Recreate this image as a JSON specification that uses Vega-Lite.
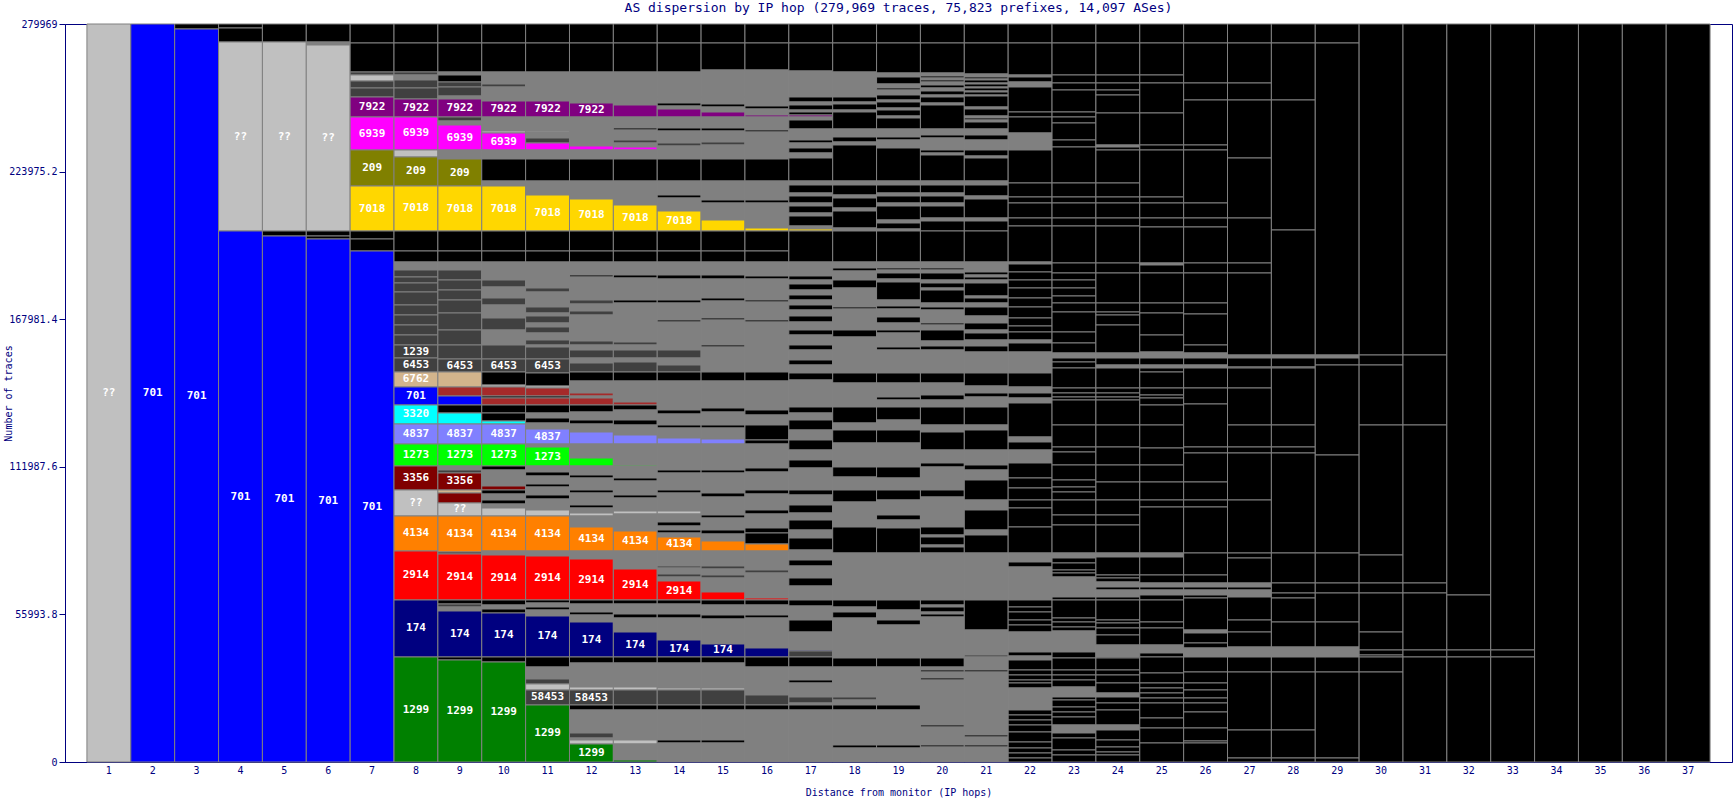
{
"$schema":"https://vega.github.io/schema/vega-lite/v6.json",
"width":1667,"height":738,
"autosize":{"type":"none"},
"padding":{"left":65,"top":24,"right":2,"bottom":38},
"background":"white",
"title":{"text":"AS dispersion by IP hop (279,969 traces, 75,823 prefixes, 14,097 ASes)","font":"DejaVu Sans Mono","fontSize":13,"fontWeight":"normal","color":"#000080","offset":4,"anchor":"middle"},
"config":{"view":{"stroke":"#000080","strokeWidth":1}},
"data":{"values":[
{"h":1,"n":279969,"c":"L","t":"??"},
{"h":2,"n":279969,"c":"B","t":"701"},
{"h":3,"n":1898,"c":"K"},{"h":3,"n":278071,"c":"B","t":"701"},
{"h":4,"n":1517,"c":"K"},{"h":4,"n":5311,"c":"K"},{"h":4,"n":71699,"c":"L","t":"??"},{"h":4,"n":201440,"c":"B","t":"701"},
{"h":5,"n":6828,"c":"K"},{"h":5,"n":71699,"c":"L","t":"??"},{"h":5,"n":1897,"c":"K"},{"h":5,"n":199543,"c":"B","t":"701"},
{"h":6,"n":6828,"c":"K"},{"h":6,"n":1138,"c":"G"},{"h":6,"n":70561,"c":"L","t":"??"},{"h":6,"n":1897,"c":"K"},{"h":6,"n":1138,"c":"K"},{"h":6,"n":198405,"c":"B","t":"701"},
{"h":7,"n":7208,"c":"K"},{"h":7,"n":11001,"c":"K"},{"h":7,"n":1138,"c":"D"},{"h":7,"n":2276,"c":"L"},{"h":7,"n":2656,"c":"D"},{"h":7,"n":3414,"c":"D"},{"h":7,"n":7587,"c":"P","t":"7922"},{"h":7,"n":12519,"c":"M","t":"6939"},{"h":7,"n":13657,"c":"O","t":"209"},{"h":7,"n":17071,"c":"Y","t":"7018"},{"h":7,"n":3035,"c":"K"},{"h":7,"n":4552,"c":"K"},{"h":7,"n":193853,"c":"B","t":"701"},
{"h":8,"n":7208,"c":"K"},{"h":8,"n":11001,"c":"K"},{"h":8,"n":1138,"c":"D"},{"h":8,"n":1897,"c":"G"},{"h":8,"n":3035,"c":"D"},{"h":8,"n":4173,"c":"D"},{"h":8,"n":6828,"c":"P","t":"7922"},{"h":8,"n":12519,"c":"M","t":"6939"},{"h":8,"n":2656,"c":"L"},{"h":8,"n":11001,"c":"O","t":"209"},{"h":8,"n":17071,"c":"Y","t":"7018"},{"h":8,"n":7587,"c":"K"},{"h":8,"n":4173,"c":"K"},{"h":8,"n":3035,"c":"G"},{"h":8,"n":2656,"c":"D"},{"h":8,"n":2276,"c":"D"},{"h":8,"n":3414,"c":"D"},{"h":8,"n":4932,"c":"D"},{"h":8,"n":3794,"c":"D"},{"h":8,"n":3794,"c":"D"},{"h":8,"n":3794,"c":"D"},{"h":8,"n":3794,"c":"D"},{"h":8,"n":4932,"c":"D","t":"1239"},{"h":8,"n":5311,"c":"D","t":"6453"},{"h":8,"n":5690,"c":"T","t":"6762"},{"h":8,"n":6828,"c":"B","t":"701"},{"h":8,"n":7208,"c":"C","t":"3320"},{"h":8,"n":7587,"c":"V","t":"4837"},{"h":8,"n":8346,"c":"Gr","t":"1273"},{"h":8,"n":9105,"c":"R","t":"3356"},{"h":8,"n":9863,"c":"L","t":"??"},{"h":8,"n":13278,"c":"Or","t":"4134"},{"h":8,"n":18589,"c":"Rd","t":"2914"},{"h":8,"n":21624,"c":"N","t":"174"},{"h":8,"n":39833,"c":"Gn","t":"1299"},
{"h":9,"n":7208,"c":"K"},{"h":9,"n":11001,"c":"K"},{"h":9,"n":1138,"c":"G"},{"h":9,"n":2656,"c":"K"},{"h":9,"n":1897,"c":"D"},{"h":9,"n":3414,"c":"D"},{"h":9,"n":1138,"c":"G"},{"h":9,"n":6828,"c":"P","t":"7922"},{"h":9,"n":1517,"c":"D"},{"h":9,"n":1517,"c":"G"},{"h":9,"n":9484,"c":"M","t":"6939"},{"h":9,"n":1138,"c":"G"},{"h":9,"n":2276,"c":"G"},{"h":9,"n":10243,"c":"O","t":"209"},{"h":9,"n":17071,"c":"Y","t":"7018"},{"h":9,"n":7587,"c":"K"},{"h":9,"n":4173,"c":"K"},{"h":9,"n":3035,"c":"G"},{"h":9,"n":3794,"c":"D"},{"h":9,"n":3794,"c":"D"},{"h":9,"n":3794,"c":"D"},{"h":9,"n":4932,"c":"D"},{"h":9,"n":6449,"c":"D"},{"h":9,"n":5690,"c":"D"},{"h":9,"n":5311,"c":"D"},{"h":9,"n":4932,"c":"D","t":"6453"},{"h":9,"n":5690,"c":"T"},{"h":9,"n":3414,"c":"Br"},{"h":9,"n":3414,"c":"B"},{"h":9,"n":3035,"c":"K"},{"h":9,"n":4173,"c":"C"},{"h":9,"n":7587,"c":"V","t":"4837"},{"h":9,"n":8346,"c":"Gr","t":"1273"},{"h":9,"n":1517,"c":"G"},{"h":9,"n":1138,"c":"D"},{"h":9,"n":6449,"c":"R","t":"3356"},{"h":9,"n":1138,"c":"T"},{"h":9,"n":3794,"c":"R"},{"h":9,"n":4932,"c":"L","t":"??"},{"h":9,"n":13657,"c":"Or","t":"4134"},{"h":9,"n":759,"c":"D"},{"h":9,"n":17451,"c":"Rd","t":"2914"},{"h":9,"n":1517,"c":"K"},{"h":9,"n":1138,"c":"D"},{"h":9,"n":1517,"c":"G"},{"h":9,"n":17451,"c":"N","t":"174"},{"h":9,"n":1138,"c":"K"},{"h":9,"n":38695,"c":"Gn","t":"1299"},
{"h":10,"n":7208,"c":"K"},{"h":10,"n":11001,"c":"K"},{"h":10,"n":1138,"c":"G"},{"h":10,"n":3414,"c":"G"},{"h":10,"n":1138,"c":"D"},{"h":10,"n":5311,"c":"G"},{"h":10,"n":6070,"c":"P","t":"7922"},{"h":10,"n":2656,"c":"G"},{"h":10,"n":2656,"c":"G"},{"h":10,"n":759,"c":"L"},{"h":10,"n":6449,"c":"M","t":"6939"},{"h":10,"n":1897,"c":"G"},{"h":10,"n":1517,"c":"G"},{"h":10,"n":8346,"c":"K"},{"h":10,"n":1897,"c":"G"},{"h":10,"n":17071,"c":"Y","t":"7018"},{"h":10,"n":7587,"c":"K"},{"h":10,"n":4173,"c":"K"},{"h":10,"n":3035,"c":"G"},{"h":10,"n":3794,"c":"G"},{"h":10,"n":2656,"c":"D"},{"h":10,"n":4173,"c":"G"},{"h":10,"n":2656,"c":"D"},{"h":10,"n":4932,"c":"G"},{"h":10,"n":4552,"c":"D"},{"h":10,"n":5690,"c":"G"},{"h":10,"n":5311,"c":"D"},{"h":10,"n":4932,"c":"D","t":"6453"},{"h":10,"n":4932,"c":"K"},{"h":10,"n":759,"c":"L"},{"h":10,"n":3414,"c":"Br"},{"h":10,"n":759,"c":"K"},{"h":10,"n":2656,"c":"Br"},{"h":10,"n":3035,"c":"K"},{"h":10,"n":3035,"c":"K"},{"h":10,"n":1138,"c":"C"},{"h":10,"n":7587,"c":"V","t":"4837"},{"h":10,"n":8346,"c":"Gr","t":"1273"},{"h":10,"n":1517,"c":"K"},{"h":10,"n":2276,"c":"G"},{"h":10,"n":3794,"c":"G"},{"h":10,"n":1517,"c":"R"},{"h":10,"n":1517,"c":"K"},{"h":10,"n":2276,"c":"G"},{"h":10,"n":1517,"c":"K"},{"h":10,"n":1517,"c":"G"},{"h":10,"n":3035,"c":"L"},{"h":10,"n":13278,"c":"Or","t":"4134"},{"h":10,"n":1517,"c":"G"},{"h":10,"n":17071,"c":"Rd","t":"2914"},{"h":10,"n":1897,"c":"K"},{"h":10,"n":1517,"c":"G"},{"h":10,"n":1517,"c":"K"},{"h":10,"n":16692,"c":"N","t":"174"},{"h":10,"n":1897,"c":"K"},{"h":10,"n":37936,"c":"Gn","t":"1299"},
{"h":11,"n":7208,"c":"K"},{"h":11,"n":11001,"c":"K"},{"h":11,"n":9484,"c":"G"},{"h":11,"n":1517,"c":"G"},{"h":11,"n":6070,"c":"P","t":"7922"},{"h":11,"n":2656,"c":"G"},{"h":11,"n":2656,"c":"G"},{"h":11,"n":379,"c":"L"},{"h":11,"n":2276,"c":"G"},{"h":11,"n":1897,"c":"D"},{"h":11,"n":2656,"c":"M"},{"h":11,"n":1897,"c":"G"},{"h":11,"n":1517,"c":"G"},{"h":11,"n":8346,"c":"K"},{"h":11,"n":2276,"c":"G"},{"h":11,"n":3035,"c":"G"},{"h":11,"n":13657,"c":"Y","t":"7018"},{"h":11,"n":7587,"c":"K"},{"h":11,"n":4173,"c":"K"},{"h":11,"n":3035,"c":"G"},{"h":11,"n":6828,"c":"G"},{"h":11,"n":1517,"c":"D"},{"h":11,"n":5690,"c":"G"},{"h":11,"n":2276,"c":"D"},{"h":11,"n":1138,"c":"G"},{"h":11,"n":2656,"c":"D"},{"h":11,"n":1517,"c":"G"},{"h":11,"n":2276,"c":"D"},{"h":11,"n":2656,"c":"G"},{"h":11,"n":1897,"c":"D"},{"h":11,"n":759,"c":"G"},{"h":11,"n":4552,"c":"D"},{"h":11,"n":5311,"c":"D","t":"6453"},{"h":11,"n":4932,"c":"K"},{"h":11,"n":759,"c":"L"},{"h":11,"n":3035,"c":"Br"},{"h":11,"n":759,"c":"K"},{"h":11,"n":2656,"c":"Br"},{"h":11,"n":3035,"c":"K"},{"h":11,"n":1897,"c":"G"},{"h":11,"n":1897,"c":"K"},{"h":11,"n":2276,"c":"G"},{"h":11,"n":5690,"c":"V","t":"4837"},{"h":11,"n":1138,"c":"G"},{"h":11,"n":7208,"c":"Gr","t":"1273"},{"h":11,"n":2276,"c":"G"},{"h":11,"n":1517,"c":"K"},{"h":11,"n":3035,"c":"G"},{"h":11,"n":1138,"c":"K"},{"h":11,"n":3035,"c":"G"},{"h":11,"n":1517,"c":"K"},{"h":11,"n":4173,"c":"G"},{"h":11,"n":2276,"c":"L"},{"h":11,"n":13278,"c":"Or","t":"4134"},{"h":11,"n":1897,"c":"G"},{"h":11,"n":16692,"c":"Rd","t":"2914"},{"h":11,"n":1138,"c":"K"},{"h":11,"n":1517,"c":"G"},{"h":11,"n":1138,"c":"K"},{"h":11,"n":2276,"c":"G"},{"h":11,"n":15554,"c":"N","t":"174"},{"h":11,"n":3794,"c":"K"},{"h":11,"n":4552,"c":"G"},{"h":11,"n":1897,"c":"D"},{"h":11,"n":2276,"c":"L"},{"h":11,"n":5690,"c":"D","t":"58453"},{"h":11,"n":21624,"c":"Gn","t":"1299"},
{"h":12,"n":7208,"c":"K"},{"h":12,"n":11001,"c":"K"},{"h":12,"n":9105,"c":"G"},{"h":12,"n":2656,"c":"G"},{"h":12,"n":5311,"c":"P","t":"7922"},{"h":12,"n":3794,"c":"G"},{"h":12,"n":2656,"c":"G"},{"h":12,"n":2656,"c":"G"},{"h":12,"n":1897,"c":"G"},{"h":12,"n":1517,"c":"M"},{"h":12,"n":1897,"c":"G"},{"h":12,"n":1517,"c":"G"},{"h":12,"n":8346,"c":"K"},{"h":12,"n":3414,"c":"G"},{"h":12,"n":3414,"c":"G"},{"h":12,"n":12140,"c":"Y","t":"7018"},{"h":12,"n":7587,"c":"K"},{"h":12,"n":4173,"c":"K"},{"h":12,"n":3035,"c":"G"},{"h":12,"n":1897,"c":"G"},{"h":12,"n":759,"c":"K"},{"h":12,"n":8725,"c":"G"},{"h":12,"n":1517,"c":"D"},{"h":12,"n":2656,"c":"G"},{"h":12,"n":1517,"c":"D"},{"h":12,"n":9863,"c":"G"},{"h":12,"n":1517,"c":"D"},{"h":12,"n":1897,"c":"G"},{"h":12,"n":3035,"c":"D"},{"h":12,"n":1897,"c":"G"},{"h":12,"n":3414,"c":"D"},{"h":12,"n":3414,"c":"K"},{"h":12,"n":4552,"c":"G"},{"h":12,"n":1138,"c":"Br"},{"h":12,"n":759,"c":"G"},{"h":12,"n":2656,"c":"Br"},{"h":12,"n":2656,"c":"K"},{"h":12,"n":3035,"c":"G"},{"h":12,"n":1517,"c":"K"},{"h":12,"n":3035,"c":"G"},{"h":12,"n":4552,"c":"V"},{"h":12,"n":5311,"c":"G"},{"h":12,"n":3035,"c":"Gr"},{"h":12,"n":3414,"c":"G"},{"h":12,"n":1138,"c":"K"},{"h":12,"n":4552,"c":"G"},{"h":12,"n":1138,"c":"K"},{"h":12,"n":4552,"c":"G"},{"h":12,"n":1138,"c":"K"},{"h":12,"n":1897,"c":"G"},{"h":12,"n":1138,"c":"L"},{"h":12,"n":4173,"c":"G"},{"h":12,"n":9105,"c":"Or","t":"4134"},{"h":12,"n":3035,"c":"G"},{"h":12,"n":15554,"c":"Rd","t":"2914"},{"h":12,"n":1517,"c":"K"},{"h":12,"n":3035,"c":"G"},{"h":12,"n":1138,"c":"K"},{"h":12,"n":2656,"c":"G"},{"h":12,"n":13278,"c":"N","t":"174"},{"h":12,"n":2276,"c":"K"},{"h":12,"n":9105,"c":"G"},{"h":12,"n":1138,"c":"L"},{"h":12,"n":5690,"c":"D","t":"58453"},{"h":12,"n":1897,"c":"K"},{"h":12,"n":8725,"c":"G"},{"h":12,"n":1897,"c":"D"},{"h":12,"n":759,"c":"G"},{"h":12,"n":1517,"c":"L"},{"h":12,"n":6828,"c":"Gn","t":"1299"},
{"h":13,"n":7208,"c":"K"},{"h":13,"n":11001,"c":"K"},{"h":13,"n":9484,"c":"G"},{"h":13,"n":3035,"c":"G"},{"h":13,"n":4552,"c":"P"},{"h":13,"n":4173,"c":"G"},{"h":13,"n":759,"c":"K"},{"h":13,"n":3794,"c":"G"},{"h":13,"n":1138,"c":"D"},{"h":13,"n":1517,"c":"G"},{"h":13,"n":1138,"c":"M"},{"h":13,"n":3414,"c":"G"},{"h":13,"n":8346,"c":"K"},{"h":13,"n":4173,"c":"G"},{"h":13,"n":4932,"c":"G"},{"h":13,"n":9863,"c":"Y","t":"7018"},{"h":13,"n":7587,"c":"K"},{"h":13,"n":4173,"c":"K"},{"h":13,"n":3035,"c":"G"},{"h":13,"n":1897,"c":"G"},{"h":13,"n":1138,"c":"K"},{"h":13,"n":8346,"c":"G"},{"h":13,"n":1138,"c":"K"},{"h":13,"n":14795,"c":"G"},{"h":13,"n":1138,"c":"D"},{"h":13,"n":1897,"c":"G"},{"h":13,"n":3035,"c":"D"},{"h":13,"n":1517,"c":"G"},{"h":13,"n":3794,"c":"D"},{"h":13,"n":3414,"c":"K"},{"h":13,"n":7967,"c":"G"},{"h":13,"n":1138,"c":"Br"},{"h":13,"n":1897,"c":"K"},{"h":13,"n":3794,"c":"G"},{"h":13,"n":1897,"c":"K"},{"h":13,"n":3794,"c":"G"},{"h":13,"n":3414,"c":"V"},{"h":13,"n":7967,"c":"G"},{"h":13,"n":379,"c":"Gr"},{"h":13,"n":4552,"c":"G"},{"h":13,"n":1138,"c":"K"},{"h":13,"n":5311,"c":"G"},{"h":13,"n":1138,"c":"K"},{"h":13,"n":4932,"c":"G"},{"h":13,"n":1138,"c":"L"},{"h":13,"n":6449,"c":"G"},{"h":13,"n":7587,"c":"Or","t":"4134"},{"h":13,"n":6828,"c":"G"},{"h":13,"n":11760,"c":"Rd","t":"2914"},{"h":13,"n":1517,"c":"K"},{"h":13,"n":3794,"c":"G"},{"h":13,"n":1517,"c":"K"},{"h":13,"n":5311,"c":"G"},{"h":13,"n":9484,"c":"N","t":"174"},{"h":13,"n":2276,"c":"K"},{"h":13,"n":9105,"c":"G"},{"h":13,"n":1138,"c":"L"},{"h":13,"n":5690,"c":"D"},{"h":13,"n":1897,"c":"K"},{"h":13,"n":11381,"c":"G"},{"h":13,"n":1517,"c":"L"},{"h":13,"n":6070,"c":"G"},{"h":13,"n":759,"c":"Gn"},
{"h":14,"n":7208,"c":"K"},{"h":14,"n":11001,"c":"K"},{"h":14,"n":9484,"c":"G"},{"h":14,"n":2276,"c":"G"},{"h":14,"n":1138,"c":"K"},{"h":14,"n":1138,"c":"G"},{"h":14,"n":3035,"c":"P"},{"h":14,"n":4173,"c":"G"},{"h":14,"n":1138,"c":"K"},{"h":14,"n":4552,"c":"G"},{"h":14,"n":1138,"c":"D"},{"h":14,"n":4932,"c":"G"},{"h":14,"n":8346,"c":"K"},{"h":14,"n":5311,"c":"G"},{"h":14,"n":1138,"c":"K"},{"h":14,"n":4932,"c":"G"},{"h":14,"n":7587,"c":"Y","t":"7018"},{"h":14,"n":7587,"c":"K"},{"h":14,"n":4173,"c":"K"},{"h":14,"n":3035,"c":"G"},{"h":14,"n":1897,"c":"G"},{"h":14,"n":1517,"c":"K"},{"h":14,"n":7967,"c":"G"},{"h":14,"n":1138,"c":"K"},{"h":14,"n":6449,"c":"G"},{"h":14,"n":759,"c":"K"},{"h":14,"n":10622,"c":"G"},{"h":14,"n":3035,"c":"D"},{"h":14,"n":2656,"c":"G"},{"h":14,"n":2656,"c":"D"},{"h":14,"n":3414,"c":"K"},{"h":14,"n":11001,"c":"G"},{"h":14,"n":1517,"c":"K"},{"h":14,"n":4173,"c":"G"},{"h":14,"n":1138,"c":"K"},{"h":14,"n":3794,"c":"G"},{"h":14,"n":2276,"c":"V"},{"h":14,"n":9863,"c":"G"},{"h":14,"n":1138,"c":"K"},{"h":14,"n":6449,"c":"G"},{"h":14,"n":1138,"c":"K"},{"h":14,"n":6828,"c":"G"},{"h":14,"n":1138,"c":"L"},{"h":14,"n":3035,"c":"G"},{"h":14,"n":1517,"c":"K"},{"h":14,"n":1517,"c":"G"},{"h":14,"n":1138,"c":"K"},{"h":14,"n":1517,"c":"G"},{"h":14,"n":5311,"c":"Or","t":"4134"},{"h":14,"n":5690,"c":"G"},{"h":14,"n":759,"c":"D"},{"h":14,"n":2276,"c":"G"},{"h":14,"n":1138,"c":"D"},{"h":14,"n":1517,"c":"G"},{"h":14,"n":7208,"c":"Rd","t":"2914"},{"h":14,"n":1517,"c":"K"},{"h":14,"n":3794,"c":"G"},{"h":14,"n":1517,"c":"K"},{"h":14,"n":8346,"c":"G"},{"h":14,"n":6449,"c":"N","t":"174"},{"h":14,"n":2276,"c":"K"},{"h":14,"n":9484,"c":"G"},{"h":14,"n":759,"c":"L"},{"h":14,"n":5690,"c":"D"},{"h":14,"n":1897,"c":"K"},{"h":14,"n":11381,"c":"G"},{"h":14,"n":1138,"c":"K"},{"h":14,"n":7208,"c":"G"},
{"h":15,"n":7208,"c":"K"},{"h":15,"n":10243,"c":"K"},{"h":15,"n":10243,"c":"G"},{"h":15,"n":2656,"c":"G"},{"h":15,"n":1138,"c":"K"},{"h":15,"n":1897,"c":"G"},{"h":15,"n":1897,"c":"P"},{"h":15,"n":4173,"c":"G"},{"h":15,"n":1138,"c":"K"},{"h":15,"n":4173,"c":"G"},{"h":15,"n":1138,"c":"D"},{"h":15,"n":5311,"c":"G"},{"h":15,"n":8346,"c":"K"},{"h":15,"n":7208,"c":"G"},{"h":15,"n":1138,"c":"K"},{"h":15,"n":6449,"c":"G"},{"h":15,"n":4173,"c":"Y"},{"h":15,"n":7587,"c":"K"},{"h":15,"n":4173,"c":"K"},{"h":15,"n":3035,"c":"G"},{"h":15,"n":1897,"c":"G"},{"h":15,"n":1517,"c":"K"},{"h":15,"n":7208,"c":"G"},{"h":15,"n":1138,"c":"K"},{"h":15,"n":6449,"c":"G"},{"h":15,"n":759,"c":"K"},{"h":15,"n":9484,"c":"G"},{"h":15,"n":759,"c":"K"},{"h":15,"n":9484,"c":"G"},{"h":15,"n":3414,"c":"K"},{"h":15,"n":10243,"c":"G"},{"h":15,"n":1517,"c":"K"},{"h":15,"n":4932,"c":"G"},{"h":15,"n":1138,"c":"K"},{"h":15,"n":4173,"c":"G"},{"h":15,"n":1897,"c":"V"},{"h":15,"n":9863,"c":"G"},{"h":15,"n":1138,"c":"K"},{"h":15,"n":7587,"c":"G"},{"h":15,"n":1517,"c":"K"},{"h":15,"n":6828,"c":"G"},{"h":15,"n":1138,"c":"K"},{"h":15,"n":4552,"c":"G"},{"h":15,"n":1517,"c":"K"},{"h":15,"n":2656,"c":"G"},{"h":15,"n":3794,"c":"Or"},{"h":15,"n":5690,"c":"G"},{"h":15,"n":1138,"c":"D"},{"h":15,"n":2276,"c":"G"},{"h":15,"n":1138,"c":"D"},{"h":15,"n":5311,"c":"G"},{"h":15,"n":3035,"c":"Rd"},{"h":15,"n":1897,"c":"K"},{"h":15,"n":3794,"c":"G"},{"h":15,"n":1517,"c":"K"},{"h":15,"n":9484,"c":"G"},{"h":15,"n":4932,"c":"N","t":"174"},{"h":15,"n":2276,"c":"K"},{"h":15,"n":9484,"c":"G"},{"h":15,"n":759,"c":"L"},{"h":15,"n":5690,"c":"D"},{"h":15,"n":1897,"c":"K"},{"h":15,"n":11381,"c":"G"},{"h":15,"n":1138,"c":"K"},{"h":15,"n":7208,"c":"G"},
{"h":16,"n":7208,"c":"K"},{"h":16,"n":10243,"c":"K"},{"h":16,"n":10243,"c":"G"},{"h":16,"n":3414,"c":"G"},{"h":16,"n":1138,"c":"K"},{"h":16,"n":2276,"c":"G"},{"h":16,"n":759,"c":"P"},{"h":16,"n":4932,"c":"G"},{"h":16,"n":759,"c":"K"},{"h":16,"n":10243,"c":"G"},{"h":16,"n":8346,"c":"K"},{"h":16,"n":7208,"c":"G"},{"h":16,"n":1138,"c":"K"},{"h":16,"n":9484,"c":"G"},{"h":16,"n":1138,"c":"Y"},{"h":16,"n":7587,"c":"K"},{"h":16,"n":4173,"c":"K"},{"h":16,"n":3035,"c":"G"},{"h":16,"n":2276,"c":"G"},{"h":16,"n":1138,"c":"K"},{"h":16,"n":7967,"c":"G"},{"h":16,"n":759,"c":"K"},{"h":16,"n":6828,"c":"G"},{"h":16,"n":759,"c":"K"},{"h":16,"n":18968,"c":"G"},{"h":16,"n":3414,"c":"K"},{"h":16,"n":11001,"c":"G"},{"h":16,"n":1897,"c":"K"},{"h":16,"n":3794,"c":"G"},{"h":16,"n":5690,"c":"K"},{"h":16,"n":1517,"c":"K"},{"h":16,"n":9105,"c":"G"},{"h":16,"n":1517,"c":"K"},{"h":16,"n":6828,"c":"G"},{"h":16,"n":1517,"c":"K"},{"h":16,"n":6070,"c":"G"},{"h":16,"n":1517,"c":"K"},{"h":16,"n":5311,"c":"G"},{"h":16,"n":1897,"c":"K"},{"h":16,"n":4173,"c":"K"},{"h":16,"n":2656,"c":"Or"},{"h":16,"n":7208,"c":"G"},{"h":16,"n":1138,"c":"D"},{"h":16,"n":9484,"c":"G"},{"h":16,"n":759,"c":"Rd"},{"h":16,"n":1897,"c":"K"},{"h":16,"n":3794,"c":"G"},{"h":16,"n":1138,"c":"K"},{"h":16,"n":11381,"c":"G"},{"h":16,"n":3414,"c":"N"},{"h":16,"n":3794,"c":"K"},{"h":16,"n":10622,"c":"G"},{"h":16,"n":3794,"c":"D"},{"h":16,"n":1897,"c":"K"},{"h":16,"n":19727,"c":"G"},
{"h":17,"n":7208,"c":"K"},{"h":17,"n":10622,"c":"K"},{"h":17,"n":9863,"c":"G"},{"h":17,"n":1897,"c":"K"},{"h":17,"n":1138,"c":"G"},{"h":17,"n":1897,"c":"K"},{"h":17,"n":759,"c":"G"},{"h":17,"n":1138,"c":"K"},{"h":17,"n":759,"c":"P"},{"h":17,"n":1138,"c":"G"},{"h":17,"n":3414,"c":"K"},{"h":17,"n":4173,"c":"G"},{"h":17,"n":1138,"c":"K"},{"h":17,"n":1897,"c":"G"},{"h":17,"n":1897,"c":"K"},{"h":17,"n":1897,"c":"G"},{"h":17,"n":8725,"c":"K"},{"h":17,"n":1517,"c":"G"},{"h":17,"n":3035,"c":"K"},{"h":17,"n":1138,"c":"G"},{"h":17,"n":2656,"c":"K"},{"h":17,"n":1138,"c":"G"},{"h":17,"n":2656,"c":"K"},{"h":17,"n":1138,"c":"G"},{"h":17,"n":3794,"c":"K"},{"h":17,"n":1138,"c":"G"},{"h":17,"n":759,"c":"Y"},{"h":17,"n":11760,"c":"K"},{"h":17,"n":3035,"c":"G"},{"h":17,"n":2276,"c":"G"},{"h":17,"n":1517,"c":"K"},{"h":17,"n":1517,"c":"G"},{"h":17,"n":2276,"c":"K"},{"h":17,"n":1897,"c":"G"},{"h":17,"n":1897,"c":"K"},{"h":17,"n":1897,"c":"G"},{"h":17,"n":1897,"c":"K"},{"h":17,"n":2276,"c":"G"},{"h":17,"n":2276,"c":"K"},{"h":17,"n":3035,"c":"G"},{"h":17,"n":1897,"c":"K"},{"h":17,"n":3794,"c":"G"},{"h":17,"n":1897,"c":"K"},{"h":17,"n":3794,"c":"G"},{"h":17,"n":1897,"c":"K"},{"h":17,"n":3035,"c":"G"},{"h":17,"n":2656,"c":"K"},{"h":17,"n":10243,"c":"G"},{"h":17,"n":2276,"c":"K"},{"h":17,"n":2656,"c":"G"},{"h":17,"n":3794,"c":"K"},{"h":17,"n":3794,"c":"G"},{"h":17,"n":3794,"c":"K"},{"h":17,"n":3794,"c":"G"},{"h":17,"n":3035,"c":"K"},{"h":17,"n":8346,"c":"G"},{"h":17,"n":1897,"c":"K"},{"h":17,"n":3794,"c":"G"},{"h":17,"n":3035,"c":"K"},{"h":17,"n":2656,"c":"G"},{"h":17,"n":3794,"c":"K"},{"h":17,"n":3035,"c":"G"},{"h":17,"n":4552,"c":"K"},{"h":17,"n":3794,"c":"G"},{"h":17,"n":2276,"c":"K"},{"h":17,"n":4552,"c":"G"},{"h":17,"n":3035,"c":"K"},{"h":17,"n":5311,"c":"G"},{"h":17,"n":2276,"c":"K"},{"h":17,"n":5311,"c":"G"},{"h":17,"n":4552,"c":"K"},{"h":17,"n":6828,"c":"G"},{"h":17,"n":379,"c":"N"},{"h":17,"n":2276,"c":"D"},{"h":17,"n":3794,"c":"K"},{"h":17,"n":4932,"c":"G"},{"h":17,"n":1138,"c":"K"},{"h":17,"n":5311,"c":"G"},{"h":17,"n":2276,"c":"D"},{"h":17,"n":759,"c":"G"},{"h":17,"n":1897,"c":"K"},{"h":17,"n":19727,"c":"G"},
{"h":18,"n":7208,"c":"K"},{"h":18,"n":11001,"c":"K"},{"h":18,"n":9484,"c":"G"},{"h":18,"n":1897,"c":"K"},{"h":18,"n":759,"c":"G"},{"h":18,"n":2276,"c":"K"},{"h":18,"n":759,"c":"G"},{"h":18,"n":6449,"c":"K"},{"h":18,"n":3035,"c":"G"},{"h":18,"n":1897,"c":"K"},{"h":18,"n":1138,"c":"G"},{"h":18,"n":13657,"c":"K"},{"h":18,"n":1517,"c":"G"},{"h":18,"n":3794,"c":"K"},{"h":18,"n":1138,"c":"G"},{"h":18,"n":3794,"c":"K"},{"h":18,"n":1138,"c":"G"},{"h":18,"n":6449,"c":"K"},{"h":18,"n":1138,"c":"G"},{"h":18,"n":11760,"c":"K"},{"h":18,"n":2276,"c":"G"},{"h":18,"n":1138,"c":"K"},{"h":18,"n":3414,"c":"G"},{"h":18,"n":3035,"c":"K"},{"h":18,"n":7208,"c":"G"},{"h":18,"n":759,"c":"K"},{"h":18,"n":7967,"c":"G"},{"h":18,"n":2656,"c":"K"},{"h":18,"n":13657,"c":"G"},{"h":18,"n":3794,"c":"K"},{"h":18,"n":9105,"c":"G"},{"h":18,"n":6070,"c":"K"},{"h":18,"n":2656,"c":"G"},{"h":18,"n":4932,"c":"K"},{"h":18,"n":9105,"c":"G"},{"h":18,"n":3794,"c":"K"},{"h":18,"n":4932,"c":"G"},{"h":18,"n":4552,"c":"K"},{"h":18,"n":9484,"c":"G"},{"h":18,"n":9863,"c":"K"},{"h":18,"n":17830,"c":"G"},{"h":18,"n":2656,"c":"K"},{"h":18,"n":1897,"c":"G"},{"h":18,"n":2276,"c":"K"},{"h":18,"n":15174,"c":"G"},{"h":18,"n":3414,"c":"K"},{"h":18,"n":11381,"c":"G"},{"h":18,"n":1138,"c":"D"},{"h":18,"n":1897,"c":"G"},{"h":18,"n":1897,"c":"K"},{"h":18,"n":13278,"c":"G"},{"h":18,"n":1138,"c":"K"},{"h":18,"n":5311,"c":"G"},
{"h":19,"n":7208,"c":"K"},{"h":19,"n":11381,"c":"K"},{"h":19,"n":1517,"c":"G"},{"h":19,"n":2656,"c":"K"},{"h":19,"n":1517,"c":"G"},{"h":19,"n":759,"c":"K"},{"h":19,"n":1897,"c":"G"},{"h":19,"n":1897,"c":"K"},{"h":19,"n":759,"c":"G"},{"h":19,"n":2276,"c":"K"},{"h":19,"n":759,"c":"G"},{"h":19,"n":2276,"c":"K"},{"h":19,"n":759,"c":"G"},{"h":19,"n":4173,"c":"K"},{"h":19,"n":3035,"c":"G"},{"h":19,"n":1138,"c":"K"},{"h":19,"n":3035,"c":"G"},{"h":19,"n":12519,"c":"K"},{"h":19,"n":1517,"c":"G"},{"h":19,"n":3035,"c":"K"},{"h":19,"n":1138,"c":"G"},{"h":19,"n":2656,"c":"K"},{"h":19,"n":1138,"c":"G"},{"h":19,"n":5311,"c":"K"},{"h":19,"n":1138,"c":"G"},{"h":19,"n":2276,"c":"K"},{"h":19,"n":759,"c":"G"},{"h":19,"n":11760,"c":"K"},{"h":19,"n":2276,"c":"G"},{"h":19,"n":759,"c":"K"},{"h":19,"n":1138,"c":"G"},{"h":19,"n":2276,"c":"K"},{"h":19,"n":1138,"c":"G"},{"h":19,"n":6828,"c":"K"},{"h":19,"n":2276,"c":"G"},{"h":19,"n":1138,"c":"K"},{"h":19,"n":3035,"c":"G"},{"h":19,"n":2276,"c":"K"},{"h":19,"n":2656,"c":"G"},{"h":19,"n":1138,"c":"K"},{"h":19,"n":5311,"c":"G"},{"h":19,"n":1138,"c":"K"},{"h":19,"n":8725,"c":"G"},{"h":19,"n":3794,"c":"K"},{"h":19,"n":5311,"c":"G"},{"h":19,"n":1138,"c":"K"},{"h":19,"n":2656,"c":"G"},{"h":19,"n":4932,"c":"K"},{"h":19,"n":3794,"c":"G"},{"h":19,"n":4932,"c":"K"},{"h":19,"n":9105,"c":"G"},{"h":19,"n":4173,"c":"K"},{"h":19,"n":4552,"c":"G"},{"h":19,"n":3794,"c":"K"},{"h":19,"n":5690,"c":"G"},{"h":19,"n":1897,"c":"K"},{"h":19,"n":3035,"c":"G"},{"h":19,"n":9484,"c":"K"},{"h":19,"n":17830,"c":"G"},{"h":19,"n":3794,"c":"K"},{"h":19,"n":3794,"c":"G"},{"h":19,"n":1897,"c":"K"},{"h":19,"n":12519,"c":"G"},{"h":19,"n":3414,"c":"K"},{"h":19,"n":14416,"c":"G"},{"h":19,"n":1897,"c":"K"},{"h":19,"n":13278,"c":"G"},{"h":19,"n":1138,"c":"K"},{"h":19,"n":5311,"c":"G"},
{"h":20,"n":7208,"c":"K"},{"h":20,"n":11381,"c":"K"},{"h":20,"n":1138,"c":"G"},{"h":20,"n":759,"c":"K"},{"h":20,"n":759,"c":"G"},{"h":20,"n":759,"c":"K"},{"h":20,"n":1138,"c":"G"},{"h":20,"n":1138,"c":"K"},{"h":20,"n":1138,"c":"G"},{"h":20,"n":1517,"c":"K"},{"h":20,"n":759,"c":"G"},{"h":20,"n":2276,"c":"K"},{"h":20,"n":759,"c":"G"},{"h":20,"n":9105,"c":"K"},{"h":20,"n":2276,"c":"G"},{"h":20,"n":1138,"c":"K"},{"h":20,"n":4552,"c":"G"},{"h":20,"n":1138,"c":"K"},{"h":20,"n":759,"c":"G"},{"h":20,"n":9863,"c":"K"},{"h":20,"n":1517,"c":"G"},{"h":20,"n":3035,"c":"K"},{"h":20,"n":1138,"c":"G"},{"h":20,"n":2656,"c":"K"},{"h":20,"n":1138,"c":"G"},{"h":20,"n":4552,"c":"K"},{"h":20,"n":1138,"c":"G"},{"h":20,"n":3794,"c":"K"},{"h":20,"n":11760,"c":"K"},{"h":20,"n":2276,"c":"G"},{"h":20,"n":759,"c":"K"},{"h":20,"n":1138,"c":"G"},{"h":20,"n":2656,"c":"K"},{"h":20,"n":1138,"c":"G"},{"h":20,"n":1897,"c":"K"},{"h":20,"n":759,"c":"G"},{"h":20,"n":4932,"c":"K"},{"h":20,"n":1517,"c":"G"},{"h":20,"n":1138,"c":"K"},{"h":20,"n":4932,"c":"G"},{"h":20,"n":759,"c":"K"},{"h":20,"n":1897,"c":"G"},{"h":20,"n":4173,"c":"K"},{"h":20,"n":1897,"c":"G"},{"h":20,"n":1517,"c":"K"},{"h":20,"n":8725,"c":"G"},{"h":20,"n":3794,"c":"K"},{"h":20,"n":4552,"c":"G"},{"h":20,"n":1897,"c":"K"},{"h":20,"n":2656,"c":"G"},{"h":20,"n":6828,"c":"K"},{"h":20,"n":2656,"c":"G"},{"h":20,"n":6828,"c":"K"},{"h":20,"n":4932,"c":"G"},{"h":20,"n":1517,"c":"K"},{"h":20,"n":8725,"c":"G"},{"h":20,"n":2656,"c":"K"},{"h":20,"n":11381,"c":"G"},{"h":20,"n":3035,"c":"K"},{"h":20,"n":759,"c":"G"},{"h":20,"n":3035,"c":"K"},{"h":20,"n":759,"c":"G"},{"h":20,"n":2276,"c":"K"},{"h":20,"n":17830,"c":"G"},{"h":20,"n":1897,"c":"K"},{"h":20,"n":759,"c":"G"},{"h":20,"n":1897,"c":"K"},{"h":20,"n":759,"c":"G"},{"h":20,"n":1138,"c":"K"},{"h":20,"n":15554,"c":"G"},{"h":20,"n":3414,"c":"K"},{"h":20,"n":1138,"c":"G"},{"h":20,"n":759,"c":"K"},{"h":20,"n":2276,"c":"G"},{"h":20,"n":759,"c":"K"},{"h":20,"n":17071,"c":"G"},{"h":20,"n":759,"c":"K"},{"h":20,"n":6828,"c":"G"},{"h":20,"n":759,"c":"K"},{"h":20,"n":5690,"c":"G"},
{"h":21,"n":7208,"c":"K"},{"h":21,"n":11760,"c":"K"},{"h":21,"n":1138,"c":"G"},{"h":21,"n":759,"c":"K"},{"h":21,"n":379,"c":"G"},{"h":21,"n":1138,"c":"K"},{"h":21,"n":379,"c":"G"},{"h":21,"n":1138,"c":"K"},{"h":21,"n":379,"c":"G"},{"h":21,"n":1138,"c":"K"},{"h":21,"n":379,"c":"G"},{"h":21,"n":1138,"c":"K"},{"h":21,"n":379,"c":"G"},{"h":21,"n":4173,"c":"K"},{"h":21,"n":759,"c":"G"},{"h":21,"n":2656,"c":"K"},{"h":21,"n":759,"c":"G"},{"h":21,"n":759,"c":"K"},{"h":21,"n":759,"c":"G"},{"h":21,"n":2656,"c":"K"},{"h":21,"n":2276,"c":"G"},{"h":21,"n":1897,"c":"K"},{"h":21,"n":3794,"c":"G"},{"h":21,"n":2276,"c":"K"},{"h":21,"n":759,"c":"G"},{"h":21,"n":8725,"c":"K"},{"h":21,"n":1517,"c":"G"},{"h":21,"n":4173,"c":"K"},{"h":21,"n":1138,"c":"G"},{"h":21,"n":7208,"c":"K"},{"h":21,"n":1138,"c":"G"},{"h":21,"n":3794,"c":"K"},{"h":21,"n":11760,"c":"K"},{"h":21,"n":3035,"c":"G"},{"h":21,"n":759,"c":"G"},{"h":21,"n":1138,"c":"K"},{"h":21,"n":759,"c":"G"},{"h":21,"n":1138,"c":"K"},{"h":21,"n":1138,"c":"G"},{"h":21,"n":4932,"c":"K"},{"h":21,"n":759,"c":"G"},{"h":21,"n":1897,"c":"K"},{"h":21,"n":1517,"c":"G"},{"h":21,"n":3414,"c":"K"},{"h":21,"n":2656,"c":"G"},{"h":21,"n":2656,"c":"K"},{"h":21,"n":1138,"c":"G"},{"h":21,"n":2656,"c":"K"},{"h":21,"n":2276,"c":"G"},{"h":21,"n":2276,"c":"K"},{"h":21,"n":7967,"c":"G"},{"h":21,"n":4932,"c":"K"},{"h":21,"n":2656,"c":"G"},{"h":21,"n":1517,"c":"K"},{"h":21,"n":3794,"c":"G"},{"h":21,"n":6828,"c":"K"},{"h":21,"n":1897,"c":"G"},{"h":21,"n":7587,"c":"K"},{"h":21,"n":5690,"c":"G"},{"h":21,"n":1897,"c":"K"},{"h":21,"n":3794,"c":"G"},{"h":21,"n":7587,"c":"K"},{"h":21,"n":3794,"c":"G"},{"h":21,"n":7587,"c":"K"},{"h":21,"n":1897,"c":"G"},{"h":21,"n":6828,"c":"K"},{"h":21,"n":17830,"c":"G"},{"h":21,"n":11381,"c":"K"},{"h":21,"n":9484,"c":"G"},{"h":21,"n":759,"c":"D"},{"h":21,"n":4932,"c":"G"},{"h":21,"n":759,"c":"K"},{"h":21,"n":23900,"c":"G"},{"h":21,"n":759,"c":"K"},{"h":21,"n":3035,"c":"G"},{"h":21,"n":759,"c":"K"},{"h":21,"n":5690,"c":"G"},
{"h":22,"n":7208,"c":"K"},{"h":22,"n":12140,"c":"K"},{"h":22,"n":759,"c":"G"},{"h":22,"n":1897,"c":"K"},{"h":22,"n":1897,"c":"G"},{"h":22,"n":9484,"c":"K"},{"h":22,"n":1897,"c":"K"},{"h":22,"n":6070,"c":"K"},{"h":22,"n":2656,"c":"G"},{"h":22,"n":3794,"c":"G"},{"h":22,"n":12519,"c":"K"},{"h":22,"n":5311,"c":"K"},{"h":22,"n":2276,"c":"K"},{"h":22,"n":5690,"c":"K"},{"h":22,"n":3035,"c":"K"},{"h":22,"n":13657,"c":"K"},{"h":22,"n":759,"c":"G"},{"h":22,"n":3035,"c":"K"},{"h":22,"n":3035,"c":"K"},{"h":22,"n":3035,"c":"K"},{"h":22,"n":3794,"c":"K"},{"h":22,"n":3414,"c":"K"},{"h":22,"n":4173,"c":"K"},{"h":22,"n":3035,"c":"K"},{"h":22,"n":2276,"c":"K"},{"h":22,"n":3035,"c":"K"},{"h":22,"n":1138,"c":"G"},{"h":22,"n":3414,"c":"K"},{"h":22,"n":7967,"c":"G"},{"h":22,"n":5311,"c":"K"},{"h":22,"n":2276,"c":"G"},{"h":22,"n":1897,"c":"K"},{"h":22,"n":1897,"c":"G"},{"h":22,"n":12898,"c":"K"},{"h":22,"n":1897,"c":"G"},{"h":22,"n":3035,"c":"K"},{"h":22,"n":4932,"c":"G"},{"h":22,"n":5690,"c":"K"},{"h":22,"n":3794,"c":"K"},{"h":22,"n":4552,"c":"K"},{"h":22,"n":3035,"c":"K"},{"h":22,"n":7208,"c":"K"},{"h":22,"n":9863,"c":"K"},{"h":22,"n":3414,"c":"G"},{"h":22,"n":1897,"c":"K"},{"h":22,"n":12519,"c":"G"},{"h":22,"n":2656,"c":"K"},{"h":22,"n":1897,"c":"K"},{"h":22,"n":3035,"c":"K"},{"h":22,"n":1897,"c":"K"},{"h":22,"n":2656,"c":"K"},{"h":22,"n":7587,"c":"G"},{"h":22,"n":1517,"c":"K"},{"h":22,"n":1517,"c":"G"},{"h":22,"n":3794,"c":"K"},{"h":22,"n":1897,"c":"K"},{"h":22,"n":1897,"c":"K"},{"h":22,"n":1138,"c":"K"},{"h":22,"n":1897,"c":"K"},{"h":22,"n":8346,"c":"G"},{"h":22,"n":1897,"c":"K"},{"h":22,"n":1897,"c":"K"},{"h":22,"n":1897,"c":"K"},{"h":22,"n":2656,"c":"K"},{"h":22,"n":3794,"c":"K"},{"h":22,"n":2276,"c":"K"},{"h":22,"n":1897,"c":"K"},{"h":22,"n":1897,"c":"K"},{"h":22,"n":1517,"c":"K"},
{"h":23,"n":7208,"c":"K"},{"h":23,"n":12140,"c":"K"},{"h":23,"n":3035,"c":"K"},{"h":23,"n":2656,"c":"K"},{"h":23,"n":8346,"c":"K"},{"h":23,"n":1897,"c":"K"},{"h":23,"n":2276,"c":"K"},{"h":23,"n":6449,"c":"K"},{"h":23,"n":2656,"c":"K"},{"h":23,"n":13657,"c":"K"},{"h":23,"n":5311,"c":"K"},{"h":23,"n":2276,"c":"K"},{"h":23,"n":5690,"c":"K"},{"h":23,"n":3035,"c":"K"},{"h":23,"n":14036,"c":"K"},{"h":23,"n":3794,"c":"K"},{"h":23,"n":2656,"c":"K"},{"h":23,"n":3035,"c":"K"},{"h":23,"n":3035,"c":"K"},{"h":23,"n":2656,"c":"K"},{"h":23,"n":3414,"c":"K"},{"h":23,"n":7587,"c":"K"},{"h":23,"n":4173,"c":"K"},{"h":23,"n":3794,"c":"K"},{"h":23,"n":1897,"c":"G"},{"h":23,"n":1517,"c":"K"},{"h":23,"n":2276,"c":"K"},{"h":23,"n":7587,"c":"K"},{"h":23,"n":1897,"c":"K"},{"h":23,"n":1517,"c":"K"},{"h":23,"n":1138,"c":"K"},{"h":23,"n":9484,"c":"K"},{"h":23,"n":8346,"c":"K"},{"h":23,"n":1897,"c":"K"},{"h":23,"n":4932,"c":"K"},{"h":23,"n":5690,"c":"K"},{"h":23,"n":2656,"c":"K"},{"h":23,"n":1897,"c":"K"},{"h":23,"n":3035,"c":"K"},{"h":23,"n":5690,"c":"K"},{"h":23,"n":3794,"c":"K"},{"h":23,"n":10622,"c":"K"},{"h":23,"n":1897,"c":"G"},{"h":23,"n":1897,"c":"K"},{"h":23,"n":2656,"c":"K"},{"h":23,"n":1138,"c":"K"},{"h":23,"n":1517,"c":"K"},{"h":23,"n":7587,"c":"G"},{"h":23,"n":1138,"c":"K"},{"h":23,"n":6828,"c":"K"},{"h":23,"n":1517,"c":"K"},{"h":23,"n":1897,"c":"K"},{"h":23,"n":1517,"c":"K"},{"h":23,"n":7967,"c":"G"},{"h":23,"n":2276,"c":"K"},{"h":23,"n":4552,"c":"K"},{"h":23,"n":1897,"c":"K"},{"h":23,"n":1897,"c":"K"},{"h":23,"n":2656,"c":"K"},{"h":23,"n":3794,"c":"G"},{"h":23,"n":1138,"c":"K"},{"h":23,"n":2656,"c":"K"},{"h":23,"n":1897,"c":"K"},{"h":23,"n":1897,"c":"K"},{"h":23,"n":3035,"c":"K"},{"h":23,"n":3035,"c":"G"},{"h":23,"n":1897,"c":"K"},{"h":23,"n":4552,"c":"K"},{"h":23,"n":1897,"c":"K"},{"h":23,"n":2656,"c":"K"},
{"h":24,"n":7208,"c":"K"},{"h":24,"n":12140,"c":"K"},{"h":24,"n":3035,"c":"K"},{"h":24,"n":2656,"c":"K"},{"h":24,"n":1897,"c":"K"},{"h":24,"n":6828,"c":"K"},{"h":24,"n":12140,"c":"K"},{"h":24,"n":759,"c":"G"},{"h":24,"n":1138,"c":"K"},{"h":24,"n":12519,"c":"K"},{"h":24,"n":5311,"c":"K"},{"h":24,"n":2276,"c":"K"},{"h":24,"n":5690,"c":"K"},{"h":24,"n":3035,"c":"K"},{"h":24,"n":14036,"c":"K"},{"h":24,"n":3794,"c":"K"},{"h":24,"n":11381,"c":"K"},{"h":24,"n":3414,"c":"K"},{"h":24,"n":1138,"c":"K"},{"h":24,"n":3794,"c":"K"},{"h":24,"n":10622,"c":"K"},{"h":24,"n":1897,"c":"G"},{"h":24,"n":2656,"c":"K"},{"h":24,"n":1138,"c":"G"},{"h":24,"n":7587,"c":"K"},{"h":24,"n":1897,"c":"K"},{"h":24,"n":1517,"c":"K"},{"h":24,"n":1138,"c":"K"},{"h":24,"n":9484,"c":"K"},{"h":24,"n":8346,"c":"K"},{"h":24,"n":6828,"c":"K"},{"h":24,"n":6449,"c":"K"},{"h":24,"n":6828,"c":"K"},{"h":24,"n":5690,"c":"K"},{"h":24,"n":3794,"c":"K"},{"h":24,"n":10622,"c":"K"},{"h":24,"n":1517,"c":"G"},{"h":24,"n":6828,"c":"K"},{"h":24,"n":1138,"c":"K"},{"h":24,"n":1517,"c":"K"},{"h":24,"n":1897,"c":"G"},{"h":24,"n":1138,"c":"K"},{"h":24,"n":2656,"c":"G"},{"h":24,"n":1138,"c":"K"},{"h":24,"n":7587,"c":"K"},{"h":24,"n":1138,"c":"K"},{"h":24,"n":1897,"c":"K"},{"h":24,"n":2656,"c":"K"},{"h":24,"n":3794,"c":"K"},{"h":24,"n":4552,"c":"G"},{"h":24,"n":379,"c":"K"},{"h":24,"n":4552,"c":"K"},{"h":24,"n":1897,"c":"K"},{"h":24,"n":3035,"c":"K"},{"h":24,"n":3794,"c":"K"},{"h":24,"n":1517,"c":"G"},{"h":24,"n":2276,"c":"K"},{"h":24,"n":2656,"c":"K"},{"h":24,"n":5690,"c":"K"},{"h":24,"n":1897,"c":"G"},{"h":24,"n":3794,"c":"K"},{"h":24,"n":2656,"c":"K"},{"h":24,"n":1897,"c":"K"},{"h":24,"n":1138,"c":"K"},{"h":24,"n":2656,"c":"K"},
{"h":25,"n":7208,"c":"K"},{"h":25,"n":12140,"c":"K"},{"h":25,"n":3035,"c":"K"},{"h":25,"n":11381,"c":"K"},{"h":25,"n":12140,"c":"K"},{"h":25,"n":1897,"c":"K"},{"h":25,"n":17830,"c":"K"},{"h":25,"n":2276,"c":"K"},{"h":25,"n":5690,"c":"K"},{"h":25,"n":3414,"c":"K"},{"h":25,"n":13657,"c":"K"},{"h":25,"n":759,"c":"G"},{"h":25,"n":3035,"c":"K"},{"h":25,"n":11381,"c":"K"},{"h":25,"n":3794,"c":"K"},{"h":25,"n":8346,"c":"K"},{"h":25,"n":6449,"c":"K"},{"h":25,"n":2276,"c":"G"},{"h":25,"n":2656,"c":"K"},{"h":25,"n":1138,"c":"G"},{"h":25,"n":1517,"c":"K"},{"h":25,"n":6070,"c":"K"},{"h":25,"n":2656,"c":"K"},{"h":25,"n":1138,"c":"K"},{"h":25,"n":2656,"c":"K"},{"h":25,"n":7587,"c":"K"},{"h":25,"n":8725,"c":"K"},{"h":25,"n":6449,"c":"K"},{"h":25,"n":6449,"c":"K"},{"h":25,"n":6828,"c":"K"},{"h":25,"n":2656,"c":"K"},{"h":25,"n":17451,"c":"K"},{"h":25,"n":1517,"c":"G"},{"h":25,"n":6828,"c":"K"},{"h":25,"n":3035,"c":"K"},{"h":25,"n":1517,"c":"G"},{"h":25,"n":1138,"c":"K"},{"h":25,"n":1897,"c":"G"},{"h":25,"n":1897,"c":"K"},{"h":25,"n":8346,"c":"K"},{"h":25,"n":2276,"c":"K"},{"h":25,"n":6449,"c":"K"},{"h":25,"n":3035,"c":"G"},{"h":25,"n":1517,"c":"K"},{"h":25,"n":6070,"c":"K"},{"h":25,"n":3794,"c":"K"},{"h":25,"n":1897,"c":"K"},{"h":25,"n":1897,"c":"K"},{"h":25,"n":1897,"c":"K"},{"h":25,"n":1897,"c":"K"},{"h":25,"n":5690,"c":"K"},{"h":25,"n":3794,"c":"K"},{"h":25,"n":5690,"c":"K"},{"h":25,"n":7208,"c":"K"},
{"h":26,"n":7208,"c":"K"},{"h":26,"n":15174,"c":"K"},{"h":26,"n":6449,"c":"K"},{"h":26,"n":17071,"c":"K"},{"h":26,"n":1897,"c":"K"},{"h":26,"n":20106,"c":"K"},{"h":26,"n":5690,"c":"K"},{"h":26,"n":3414,"c":"K"},{"h":26,"n":13657,"c":"K"},{"h":26,"n":3794,"c":"K"},{"h":26,"n":11381,"c":"K"},{"h":26,"n":4173,"c":"K"},{"h":26,"n":11760,"c":"K"},{"h":26,"n":3035,"c":"K"},{"h":26,"n":1897,"c":"G"},{"h":26,"n":2656,"c":"K"},{"h":26,"n":1138,"c":"G"},{"h":26,"n":7587,"c":"K"},{"h":26,"n":6070,"c":"K"},{"h":26,"n":16312,"c":"K"},{"h":26,"n":2276,"c":"K"},{"h":26,"n":11001,"c":"K"},{"h":26,"n":6828,"c":"K"},{"h":26,"n":2656,"c":"K"},{"h":26,"n":17451,"c":"K"},{"h":26,"n":8346,"c":"K"},{"h":26,"n":3035,"c":"K"},{"h":26,"n":1517,"c":"G"},{"h":26,"n":1138,"c":"K"},{"h":26,"n":1897,"c":"G"},{"h":26,"n":1138,"c":"K"},{"h":26,"n":12140,"c":"K"},{"h":26,"n":1138,"c":"G"},{"h":26,"n":3794,"c":"K"},{"h":26,"n":1897,"c":"K"},{"h":26,"n":3414,"c":"G"},{"h":26,"n":5690,"c":"K"},{"h":26,"n":4173,"c":"K"},{"h":26,"n":2656,"c":"K"},{"h":26,"n":3035,"c":"K"},{"h":26,"n":1897,"c":"K"},{"h":26,"n":3414,"c":"K"},{"h":26,"n":6070,"c":"K"},{"h":26,"n":4932,"c":"K"},{"h":26,"n":759,"c":"K"},{"h":26,"n":7208,"c":"K"},
{"h":27,"n":7208,"c":"K"},{"h":27,"n":15174,"c":"K"},{"h":27,"n":6449,"c":"K"},{"h":27,"n":22003,"c":"K"},{"h":27,"n":22762,"c":"K"},{"h":27,"n":17071,"c":"K"},{"h":27,"n":3794,"c":"K"},{"h":27,"n":31108,"c":"K"},{"h":27,"n":1138,"c":"G"},{"h":27,"n":3414,"c":"K"},{"h":27,"n":379,"c":"K"},{"h":27,"n":7587,"c":"K"},{"h":27,"n":14036,"c":"K"},{"h":27,"n":8346,"c":"K"},{"h":27,"n":2276,"c":"K"},{"h":27,"n":17830,"c":"K"},{"h":27,"n":20106,"c":"K"},{"h":27,"n":1897,"c":"K"},{"h":27,"n":9484,"c":"K"},{"h":27,"n":1517,"c":"G"},{"h":27,"n":1138,"c":"K"},{"h":27,"n":2656,"c":"G"},{"h":27,"n":8725,"c":"K"},{"h":27,"n":4552,"c":"K"},{"h":27,"n":5690,"c":"K"},{"h":27,"n":3794,"c":"G"},{"h":27,"n":5690,"c":"K"},{"h":27,"n":22003,"c":"K"},{"h":27,"n":10622,"c":"K"},{"h":27,"n":1517,"c":"K"},
{"h":28,"n":7208,"c":"K"},{"h":28,"n":21624,"c":"K"},{"h":28,"n":49317,"c":"K"},{"h":28,"n":47421,"c":"K"},{"h":28,"n":1138,"c":"G"},{"h":28,"n":3414,"c":"K"},{"h":28,"n":379,"c":"K"},{"h":28,"n":21624,"c":"K"},{"h":28,"n":8346,"c":"K"},{"h":28,"n":2276,"c":"K"},{"h":28,"n":37936,"c":"K"},{"h":28,"n":11381,"c":"K"},{"h":28,"n":3794,"c":"K"},{"h":28,"n":1897,"c":"K"},{"h":28,"n":9105,"c":"K"},{"h":28,"n":9484,"c":"K"},{"h":28,"n":3794,"c":"G"},{"h":28,"n":5690,"c":"K"},{"h":28,"n":22003,"c":"K"},{"h":28,"n":10622,"c":"K"},{"h":28,"n":1517,"c":"K"},
{"h":29,"n":7208,"c":"K"},{"h":29,"n":118360,"c":"K"},{"h":29,"n":1138,"c":"G"},{"h":29,"n":2656,"c":"K"},{"h":29,"n":34142,"c":"K"},{"h":29,"n":37177,"c":"K"},{"h":29,"n":11381,"c":"K"},{"h":29,"n":3794,"c":"K"},{"h":29,"n":11001,"c":"K"},{"h":29,"n":9484,"c":"K"},{"h":29,"n":3794,"c":"G"},{"h":29,"n":5690,"c":"K"},{"h":29,"n":32625,"c":"K"},{"h":29,"n":1517,"c":"K"},
{"h":30,"n":125568,"c":"K"},{"h":30,"n":3794,"c":"K"},{"h":30,"n":22762,"c":"K"},{"h":30,"n":49317,"c":"K"},{"h":30,"n":10622,"c":"K"},{"h":30,"n":3794,"c":"K"},{"h":30,"n":14795,"c":"K"},{"h":30,"n":6828,"c":"K"},{"h":30,"n":1897,"c":"K"},{"h":30,"n":759,"c":"K"},{"h":30,"n":5690,"c":"K"},{"h":30,"n":34142,"c":"K"},
{"h":31,"n":125568,"c":"K"},{"h":31,"n":26555,"c":"K"},{"h":31,"n":59939,"c":"K"},{"h":31,"n":3794,"c":"K"},{"h":31,"n":21624,"c":"K"},{"h":31,"n":2656,"c":"K"},{"h":31,"n":39833,"c":"K"},
{"h":32,"n":216616,"c":"K"},{"h":32,"n":20865,"c":"K"},{"h":32,"n":2656,"c":"K"},{"h":32,"n":39833,"c":"K"},
{"h":33,"n":237480,"c":"K"},{"h":33,"n":2656,"c":"K"},{"h":33,"n":39833,"c":"K"},
{"h":34,"n":279969,"c":"K"},{"h":35,"n":279969,"c":"K"},{"h":36,"n":279969,"c":"K"},{"h":37,"n":279969,"c":"K"}
]},
"transform":[
{"window":[{"op":"row_number","as":"o"}]},
{"stack":"n","groupby":["h"],"sort":[{"field":"o","order":"descending"}],"as":["y0","y1"]},
{"calculate":"(datum.y0+datum.y1)/2","as":"ym"}
],
"layer":[
{"mark":{"type":"bar","stroke":"#808080","strokeWidth":1},
 "encoding":{
  "x":{"field":"h","type":"ordinal","scale":{"domain":[1,2,3,4,5,6,7,8,9,10,11,12,13,14,15,16,17,18,19,20,21,22,23,24,25,26,27,28,29,30,31,32,33,34,35,36,37],"paddingInner":0,"paddingOuter":0.5},
   "axis":{"title":"Distance from monitor (IP hops)","titleFont":"DejaVu Sans Mono","titleFontSize":10,"titleFontWeight":"normal","titleColor":"#000080","titleY":30,"titleBaseline":"middle","labelAngle":0,"labelFont":"DejaVu Sans Mono","labelFontSize":10,"labelColor":"#000080","ticks":false,"tickSize":0,"labelPadding":3,"domainColor":"#000080","grid":false}},
  "y":{"field":"y0","type":"quantitative","scale":{"domain":[0,279969],"nice":false,"zero":true},
   "axis":{"title":"Number of traces","values":[0,55993.8,111987.6,167981.4,223975.2,279969],"labelExpr":"''+datum.value","titleFont":"DejaVu Sans Mono","titleFontSize":10,"titleFontWeight":"normal","titleColor":"#000080","titleX":-57,"titleY":369,"titleAngle":270,"titleAlign":"center","titleBaseline":"middle","labelFont":"DejaVu Sans Mono","labelFontSize":10,"labelColor":"#000080","tickColor":"#000080","tickSize":6,"labelPadding":2,"domainColor":"#000080","grid":false}},
  "y2":{"field":"y1"},
  "color":{"field":"c","type":"nominal","legend":null,"scale":{"domain":["K","G","D","L","B","N","P","M","O","Y","T","C","V","Gr","R","Or","Rd","Gn","Br"],"range":["#000000","#808080","#404040","#c0c0c0","#0000ff","#000080","#800080","#ff00ff","#808000","#ffd700","#d2b48c","#00ffff","#8080ff","#00ff00","#800000","#ff8000","#ff0000","#008000","#a52a2a"]}}
 }},
{"transform":[{"filter":"datum.t"}],
 "mark":{"type":"text","color":"white","font":"DejaVu Sans Mono","fontWeight":"bold","fontSize":11,"baseline":"middle","align":"center"},
 "encoding":{
  "x":{"field":"h","type":"ordinal"},
  "y":{"field":"ym","type":"quantitative"},
  "text":{"field":"t"}
 }}
]
}
